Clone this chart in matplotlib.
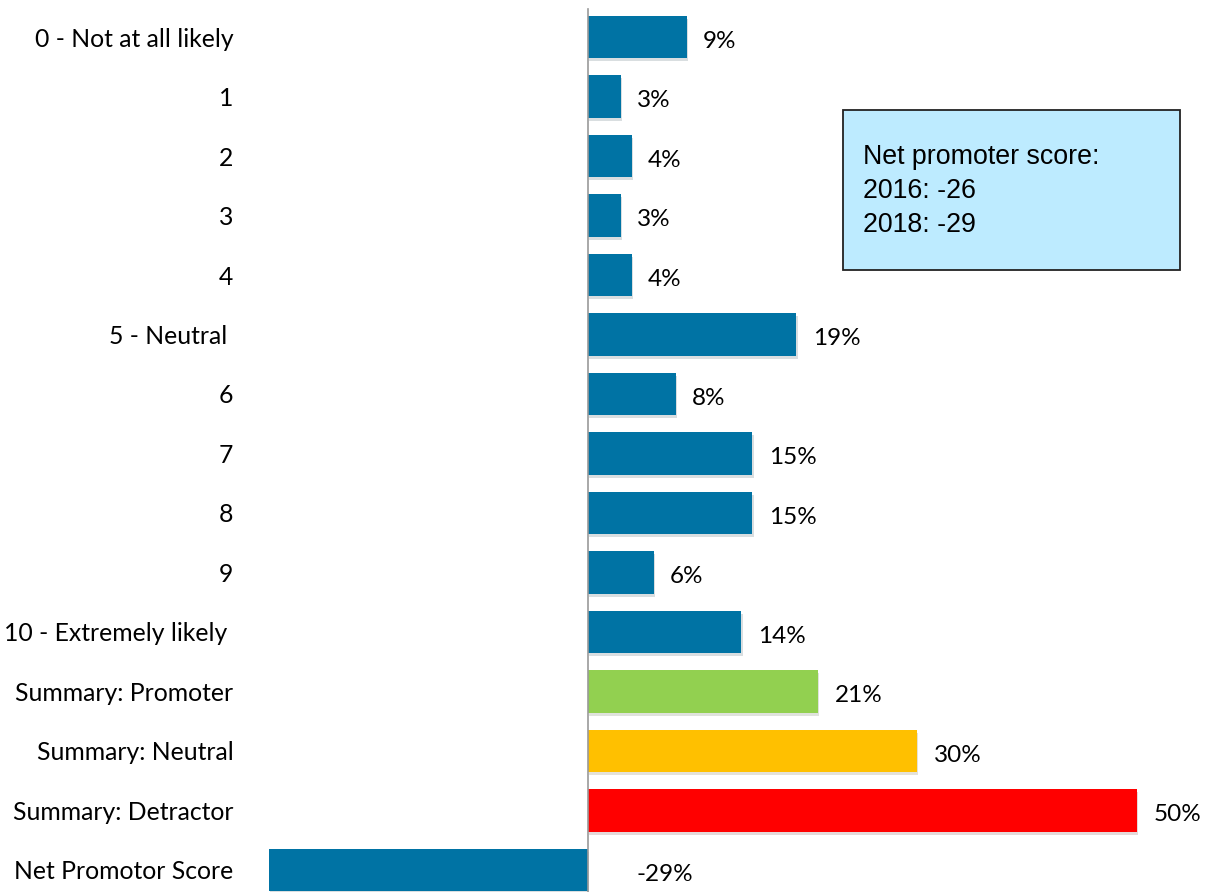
import matplotlib.pyplot as plt
import matplotlib.patheffects as pe
from matplotlib.patches import Rectangle

# likelihood to recommend, share of respondents (%)
labels = ["0 - Not at all likely", "1", "2", "3", "4", "5 - Neutral ", "6", "7", "8", "9",
          "10 - Extremely likely ", "Summary: Promoter", "Summary: Neutral",
          "Summary: Detractor", "Net Promotor Score"]
values = [9, 3, 4, 3, 4, 19, 8, 15, 15, 6, 14, 21, 30, 50, -29]
colors = ["#0073A4"] * 11 + ["#92D050", "#FFC000", "#FF0000", "#0073A4"]

plt.rcParams['font.family'] = ['Lato', 'DejaVu Sans']

W, H = 1217, 892
fig = plt.figure(figsize=(W / 100, H / 100), dpi=100)
ax = fig.add_axes([255 / W, 0, 1 - 255 / W, 1])

ypos = list(range(len(values)))
bars = ax.barh(ypos, values, height=0.71, color=colors, zorder=2)
for b in bars:
    b.set_path_effects([pe.SimplePatchShadow(offset=(0.8, -2.2), alpha=0.15), pe.Normal()])

for y, v in zip(ypos, values):
    x = v + 1.5 if v > 0 else 4.4
    ax.text(x, y + 0.07, f"{v}%", va="center", ha="left", fontsize=17.5)

ax.set_xlim(-30.3, 57.3)
ax.set_ylim(14.37, -0.622)
ax.axvline(0, color="#999999", lw=1.2, ymin=0, ymax=0.99, zorder=3)

ax.set_yticks(ypos)
ax.set_yticklabels(labels, fontsize=17.8)
ax.tick_params(axis="y", length=0, pad=15.5)
ax.set_xticks([])
for s in ax.spines.values():
    s.set_visible(False)

# info box with the yearly scores
fig.patches.append(Rectangle((843 / W, 1 - 270 / H), 337 / W, 160 / H, transform=fig.transFigure,
                             facecolor="#BDEBFF", edgecolor="#222222", lw=1.3, zorder=5))
fig.text(863 / W, 1 - 191 / H, "Net promoter score:\n2016: -26\n2018: -29",
         family="Liberation Sans", fontsize=19.3, linespacing=1.42, va="center", ha="left", zorder=6)

fig.savefig("out.png", dpi=100)
